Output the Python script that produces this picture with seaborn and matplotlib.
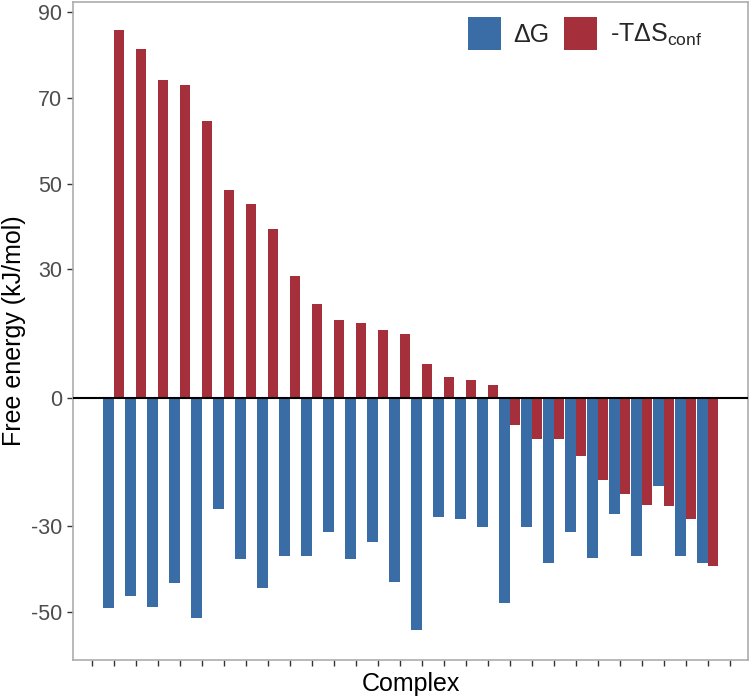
import numpy as np
import pandas as pd
import matplotlib
matplotlib.use("Agg")
import matplotlib.pyplot as plt
import seaborn as sns

# ---- data ----
complexes = [f"C{i}" for i in range(1, 29)]
delta_g = [-49.2, -46.3, -48.9, -43.3, -51.4, -26.1, -37.6, -44.4, -37.1, -37.1,
           -31.3, -37.6, -33.8, -43.0, -54.3, -28.0, -28.3, -30.2, -48.1, -30.2,
           -38.6, -31.3, -37.5, -27.3, -37.0, -20.7, -37.0, -38.6]
minus_tds = [85.8, 81.4, 74.1, 72.9, 64.5, 48.5, 45.2, 39.3, 28.4, 21.8,
             18.1, 17.4, 15.9, 14.8, 7.8, 4.9, 4.2, 3.0, -6.4, -9.7,
             -9.7, -13.7, -19.2, -22.5, -25.0, -25.4, -28.4, -39.3]
series_names = ["ΔG", r"-TΔS$_{\mathrm{conf}}$"]
y_ticks = [90, 70, 50, 30, 0, -30, -50]

df = pd.DataFrame({
    "Complex": complexes * 2,
    "value": delta_g + minus_tds,
    "series": [series_names[0]] * len(complexes) + [series_names[1]] * len(complexes),
})

sns.set_theme(style="white")
plt.rcParams["font.family"] = ["Liberation Sans", "DejaVu Sans"]
plt.rcParams["mathtext.fontset"] = "custom"
plt.rcParams["mathtext.rm"] = "Liberation Sans"
plt.rcParams["mathtext.it"] = "Liberation Sans:italic"
plt.rcParams["mathtext.bf"] = "Liberation Sans:bold"

fig = plt.figure(figsize=(7.5, 6.98), dpi=100)
ax = fig.add_axes([73 / 750, 38 / 698, 675 / 750, 658 / 698])

palette = {series_names[0]: "#3A6DA6", series_names[1]: "#A5303C"}
sns.barplot(data=df, x="Complex", y="value", hue="series", order=complexes,
            hue_order=series_names, palette=palette, width=0.95, gap=0,
            saturation=1, edgecolor="none", linewidth=0, ax=ax)

ax.axhline(0, color="black", lw=1.5, zorder=5)

# axis limits / ticks
ax.set_ylim(-61.3, 92.4)
ax.set_yticks(y_ticks)
ax.set_yticklabels([str(t) for t in y_ticks])
ax.set_xticks(np.arange(-1, len(complexes) + 1))
ax.set_xticklabels([""] * (len(complexes) + 2))
ax.set_xlim(-1.85, len(complexes) + 0.83)

ax.tick_params(axis="both", which="both", length=4, width=1, color="#333333",
               labelsize=15.5, labelcolor="#4D4D4D", pad=4, bottom=True, left=True)
for s in ax.spines.values():
    s.set_color("#ADADAD")
    s.set_linewidth(1.2)
    s.set_visible(True)

ax.set_xlabel("Complex", fontsize=18, color="black", labelpad=1)
ax.set_ylabel("Free energy (kJ/mol)", fontsize=18, color="black", labelpad=3)
ax.grid(False)

leg = ax.legend(title=None, loc="upper right", bbox_to_anchor=(0.954, 1.0),
                ncol=2, frameon=False, fontsize=18, handlelength=1.32,
                handleheight=1.65, handletextpad=0.5, columnspacing=0.6,
                borderaxespad=0.2)
for h in leg.legend_handles:
    h.set_edgecolor("none")

fig.savefig("out.png", dpi=100)
